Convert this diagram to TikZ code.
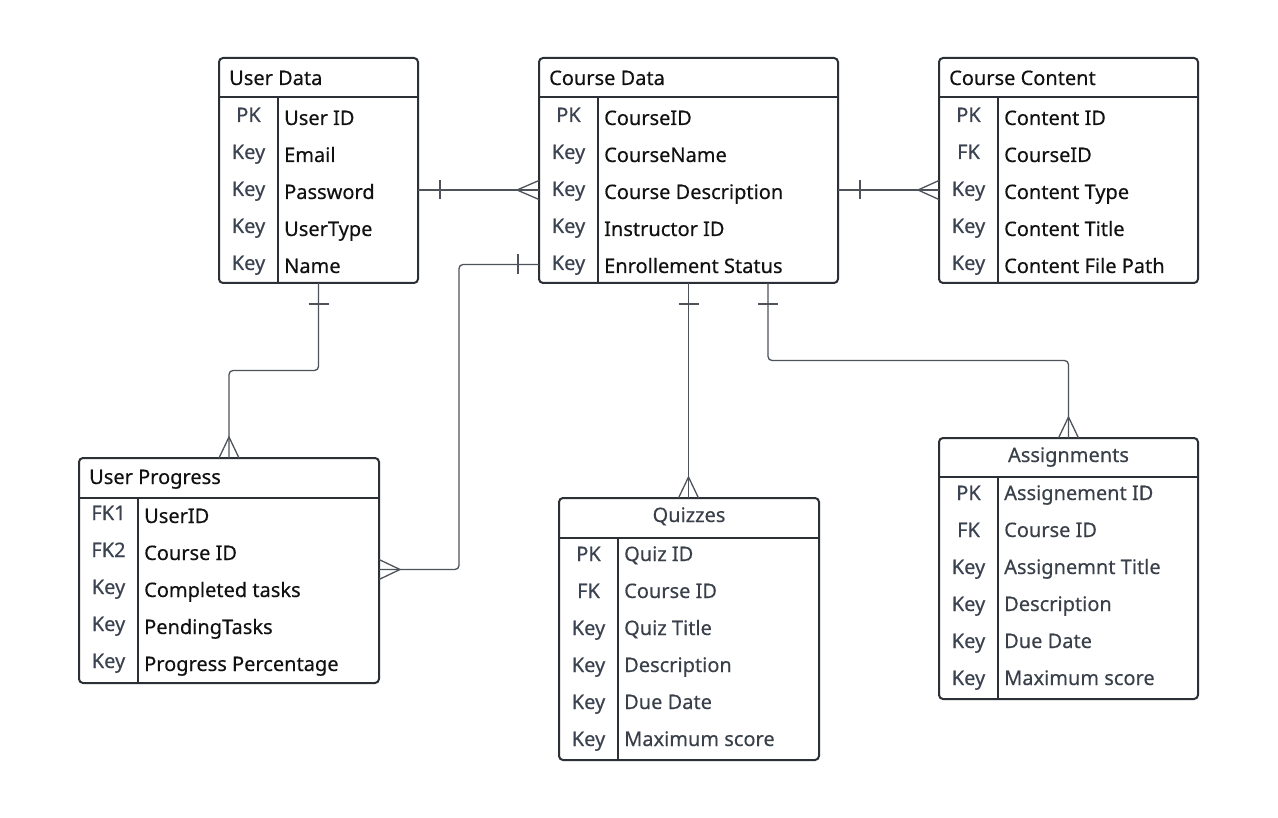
\documentclass[tikz,border=0pt]{standalone}
\usepackage{fontspec}
\setmainfont[FakeBold=0.35]{Noto Sans}
\definecolor{frame}{HTML}{2B2F36}
\definecolor{connc}{HTML}{4E535B}
\definecolor{keyc}{HTML}{3B4250}
\definecolor{greyt}{HTML}{394049}
\definecolor{blackt}{HTML}{111111}
\tikzset{
  erframe/.style={draw=frame, line width=2pt, rounded corners=4pt, fill=white, inner sep=0pt, outer sep=0pt},
  erline/.style={draw=frame, line width=2pt},
  keyt/.style={anchor=base, inner sep=0pt, text=keyc, font=\fontsize{20}{23}\selectfont},
  fldt/.style={anchor=base west, inner sep=0pt, text=blackt, font=\fontsize{20}{23}\selectfont},
  fldg/.style={anchor=base west, inner sep=0pt, text=greyt, font=\fontsize{20}{23}\selectfont},
  hdrt/.style={anchor=base west, inner sep=0pt, text=blackt, font=\fontsize{20}{23}\selectfont},
  hdrc/.style={anchor=base, inner sep=0pt, text=greyt, font=\fontsize{20}{23}\selectfont},
  conn/.style={draw=connc, line width=1.3pt},
  connr/.style={draw=connc, line width=1.3pt, rounded corners=4pt},
}
% name, x1, y1, x2, y2, header line y, divider x
\newcommand\erbox[7]{%
  \node[erframe, minimum width={#4-#2}, minimum height={#5-#3}] (#1) at ({(#2+#4)/2},{(#3+#5)/2}) {};
  \draw[erline] (#1.west |- 0,#6) -- (#1.east |- 0,#6);
  \draw[erline] (#7,#6) -- (#1.south -| #7,0);
}
% name, key x, field x, key base, field base, field style, rows
\newcommand\errows[7]{%
  \foreach \k/\f [count=\i from 0] in {#7} {
    \node[keyt] (#1-k\i) at (#2,{#4+37*\i}) {\k};
    \node[#6] (#1-f\i) at (#3,{#5+37*\i}) {\f};
  }
}
\begin{document}
\begin{tikzpicture}[x=1pt,y=-1pt]
\path[fill=white, use as bounding box] (0,0) rectangle (1278,818);

% User Data
\erbox{ud}{219}{58}{418}{283}{97}{278}
\node[hdrt] (ud-h) at (229,85) {User Data};
\errows{ud}{248.5}{284}{122}{125}{fldt}{PK/User ID, Key/Email, Key/Password, Key/UserType, Key/Name}

% Course Data
\erbox{cd}{539}{58}{838}{283}{97}{598}
\node[hdrt] (cd-h) at (549,85) {Course Data};
\errows{cd}{568.5}{604}{122}{125}{fldt}{PK/CourseID, Key/CourseName, Key/Course Description, Key/Instructor ID, Key/Enrollement Status}

% Course Content
\erbox{cc}{939}{58}{1198}{283}{97}{998}
\node[hdrt] (cc-h) at (949,85) {Course Content};
\errows{cc}{968.5}{1004}{122}{125}{fldt}{PK/Content ID, FK/CourseID, Key/Content Type, Key/Content Title, Key/Content File Path}

% User Progress
\erbox{up}{79}{458}{379}{683}{498}{138}
\node[hdrt] (up-h) at (89,484) {User Progress};
\errows{up}{108.5}{144}{520}{523}{fldt}{FK1/UserID, FK2/Course ID, Key/Completed tasks, Key/PendingTasks, Key/Progress Percentage}

% Quizzes
\erbox{qz}{559}{498}{819}{760}{538}{618}
\node[hdrc] (qz-h) at (689,522) {Quizzes};
\errows{qz}{588.5}{624}{561}{561}{fldg}{PK/Quiz ID, FK/Course ID, Key/Quiz Title, Key/Description, Key/Due Date, Key/Maximum score}

% Assignments
\erbox{as}{939}{438}{1198}{699}{477}{998}
\node[hdrc] (as-h) at (1068.5,462) {Assignments};
\errows{as}{968.5}{1004}{500}{500}{fldg}{PK/Assignement ID, FK/Course ID, Key/Assignemnt Title, Key/Description, Key/Due Date, Key/Maximum score}

% ---- connectors ----
% User Data -- Course Data
\draw[conn] (ud.east |- 0,190) -- (cd.west |- 0,190);
\draw[conn] (ud.east |- 0,190) ++(22,-9.5) -- ++(0,19);
\draw[conn] (cd.west |- 0,190) ++(0,-9.5) -- ++(-22,9.5) -- ++(22,9.5);

% Course Data -- Course Content
\draw[conn] (cd.east |- 0,190) -- (cc.west |- 0,190);
\draw[conn] (cd.east |- 0,190) ++(22,-9.5) -- ++(0,19);
\draw[conn] (cc.west |- 0,190) ++(0,-9.5) -- ++(-21,9.5) -- ++(21,9.5);

% Course Data -- User Progress
\draw[connr] (cd.west |- 0,264.5) -- (459,264.5) -- (459,569.5) -- (up.east |- 0,569.5);
\draw[conn] (cd.west |- 0,264.5) ++(-21,-10) -- ++(0,20);
\draw[conn] (up.east |- 0,569.5) ++(0,-10) -- ++(21,10) -- ++(-21,10);

% User Data -- User Progress
\draw[connr] (ud.south) -- (ud.south |- 0,370.5) -- (229,370.5) -- (up.north -| 229,0);
\draw[conn] (ud.south) ++(-10,21) -- ++(20,0);
\draw[conn] (up.north -| 229,0) ++(-10,0) -- ++(10,-21) -- ++(10,21);

% Course Data -- Quizzes
\draw[conn] (cd.south) -- (cd.south |- qz.north);
\draw[conn] (cd.south) ++(-10,21) -- ++(20,0);
\draw[conn] (cd.south |- qz.north) ++(-10,0) -- ++(10,-21) -- ++(10,21);

% Course Data -- Assignments
\draw[connr] (cd.south -| 768,0) -- (768,360.5) -- (as.north |- 0,360.5) -- (as.north);
\draw[conn] (cd.south -| 768,0) ++(-10,21) -- ++(20,0);
\draw[conn] (as.north) ++(-10,0) -- ++(10,-21) -- ++(10,21);
\end{tikzpicture}
\end{document}
